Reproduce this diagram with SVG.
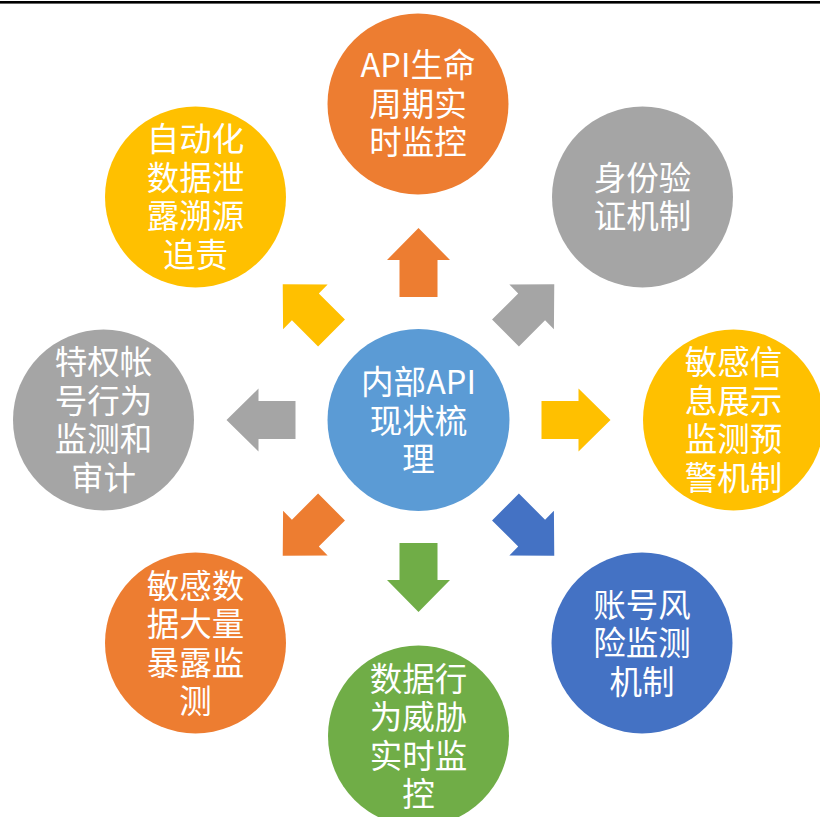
<svg xmlns="http://www.w3.org/2000/svg" xmlns:xlink="http://www.w3.org/1999/xlink" width="820" height="817" viewBox="0 0 820 817">
<style>
.t{font-family:"Noto Sans CJK SC","Liberation Sans",sans-serif;font-size:32.5px;fill:#fff;text-anchor:middle}
.or{fill:#ED7D31}.gy{fill:#A5A5A5}.ye{fill:#FFC000}.bl{fill:#4472C4}.gr{fill:#70AD47}.lb{fill:#5B9BD5}
</style>
<defs>
<path id="arr" d="M-19,-123 L-19,-160 L-31.5,-160 L0,-192 L31.5,-160 L19,-160 L19,-123 Z"/>
</defs>
<rect x="0" y="0" width="820" height="817" fill="#fff"/>
<rect x="0" y="1" width="820" height="2.6" fill="#000"/>
<g id="connectors">
<use xlink:href="#arr" class="or" transform="translate(418.5,420) rotate(0)"/>
<use xlink:href="#arr" class="gy" transform="translate(418.5,420) rotate(45)"/>
<use xlink:href="#arr" class="ye" transform="translate(418.5,420) rotate(90)"/>
<use xlink:href="#arr" class="bl" transform="translate(418.5,420) rotate(135)"/>
<use xlink:href="#arr" class="gr" transform="translate(418.5,420) rotate(180)"/>
<use xlink:href="#arr" class="or" transform="translate(418.5,420) rotate(225)"/>
<use xlink:href="#arr" class="gy" transform="translate(418.5,420) rotate(270)"/>
<use xlink:href="#arr" class="ye" transform="translate(418.5,420) rotate(315)"/>
</g>
<g id="center">
<circle cx="418.5" cy="420" r="91" class="lb"/>
<text class="t" x="418.5" y="393.5">内部API</text>
<text class="t" x="418.5" y="432.5">现状梳</text>
<text class="t" x="418.5" y="470.5">理</text>
</g>
<g id="n-top">
<circle cx="418" cy="104" r="90.5" class="or"/>
<text class="t" x="418" y="77">API生命</text>
<text class="t" x="418" y="115.5">周期实</text>
<text class="t" x="418" y="154">时监控</text>
</g>
<g id="n-topright">
<circle cx="642.5" cy="197" r="90.5" class="gy"/>
<text class="t" x="642.5" y="189.5">身份验</text>
<text class="t" x="642.5" y="227.5">证机制</text>
</g>
<g id="n-right">
<circle cx="733.5" cy="420" r="90.5" class="ye"/>
<text class="t" x="733.5" y="374">敏感信</text>
<text class="t" x="733.5" y="412.5">息展示</text>
<text class="t" x="733.5" y="451">监测预</text>
<text class="t" x="733.5" y="489.5">警机制</text>
</g>
<g id="n-bottomright">
<circle cx="642" cy="643" r="90.5" class="bl"/>
<text class="t" x="642" y="616.5">账号风</text>
<text class="t" x="642" y="655">险监测</text>
<text class="t" x="642" y="693.5">机制</text>
</g>
<g id="n-bottom">
<circle cx="418.5" cy="736" r="90.5" class="gr"/>
<text class="t" x="418.5" y="690.5">数据行</text>
<text class="t" x="418.5" y="729">为威胁</text>
<text class="t" x="418.5" y="767.5">实时监</text>
<text class="t" x="418.5" y="806">控</text>
</g>
<g id="n-bottomleft">
<circle cx="195.5" cy="643" r="90.5" class="or"/>
<text class="t" x="195.5" y="597.5">敏感数</text>
<text class="t" x="195.5" y="636">据大量</text>
<text class="t" x="195.5" y="674.5">暴露监</text>
<text class="t" x="195.5" y="713">测</text>
</g>
<g id="n-left">
<circle cx="103.5" cy="420" r="90.5" class="gy"/>
<text class="t" x="103.5" y="374">特权帐</text>
<text class="t" x="103.5" y="412.5">号行为</text>
<text class="t" x="103.5" y="451">监测和</text>
<text class="t" x="103.5" y="489.5">审计</text>
</g>
<g id="n-topleft">
<circle cx="195.5" cy="197" r="90.5" class="ye"/>
<text class="t" x="195.5" y="151">自动化</text>
<text class="t" x="195.5" y="189.5">数据泄</text>
<text class="t" x="195.5" y="228">露溯源</text>
<text class="t" x="195.5" y="266.5">追责</text>
</g>
</svg>
